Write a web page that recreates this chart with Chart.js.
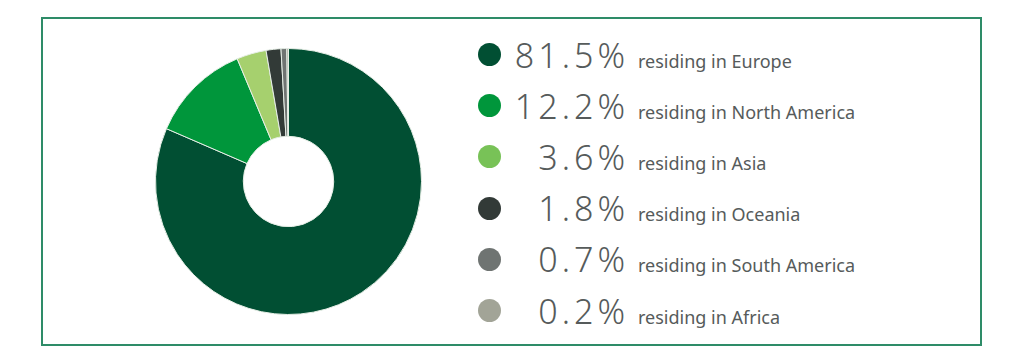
<!DOCTYPE html>
<html>
<head>
<meta charset="utf-8">
<script src="https://cdn.jsdelivr.net/npm/chart.js@4"></script>
<style>
    html, body { margin: 0; padding: 0; background: #ffffff; }
    body { width: 1024px; height: 364px; position: relative; overflow: hidden; font-family: 'Noto Sans', sans-serif; }
    .frame { position: absolute; left: 41px; top: 17px; width: 937px; height: 325px; border: 2px solid #2e8c68; }
    .pie { position: absolute; left: 155px; top: 48px; width: 267px; height: 267px; }
    .legend { position: absolute; left: 478px; top: 29px; }
    .row { display: flex; align-items: center; height: 51.2px; }
    .dot { width: 23px; height: 23px; border-radius: 50%; flex: none; }
    .txt { display: flex; align-items: baseline; color: #565b5b; }
    .pct { width: 116px; text-align: right; font-size: 34px; font-weight: 300; letter-spacing: 4px; margin-left: 12px; margin-right: 9px; }
    .lab { font-size: 18px; }
</style>
</head>
<body>
<div class="frame"></div>
<div class="pie"><canvas id="pie-chart"></canvas></div>
<div class="legend" id="legend"></div>
<script>
const regions = ['Europe', 'North America', 'Asia', 'Oceania', 'South America', 'Africa'];
const shares = [81.5, 12.2, 3.6, 1.8, 0.7, 0.2];
const sliceColors = ['#014f33', '#00963b', '#a6d06e', '#323a37', '#6f7472', '#a2a497'];
const dotColors = ['#014f33', '#00963b', '#78c257', '#323a37', '#6f7472', '#a2a497'];

function buildLegend() {
    const el = document.getElementById('legend');
    regions.forEach((name, i) => {
        const row = document.createElement('div');
        row.className = 'row';
        row.innerHTML = `<span class="dot" style="background:${dotColors[i]}"></span>` +
            `<span class="txt"><span class="pct">${shares[i].toFixed(1)}%</span>` +
            `<span class="lab">residing in ${name}</span></span>`;
        el.appendChild(row);
    });
}

buildLegend();

new Chart(document.getElementById('pie-chart'), {
    type: 'doughnut',
    data: {
        labels: regions,
        datasets: [
            {
                data: shares,
                backgroundColor: sliceColors,
                borderColor: '#e6eee6',
                borderWidth: 1,
            },
        ],
    },
    options: {
        responsive: true,
        maintainAspectRatio: false,
        animation: false,
        cutout: '34%',
        layout: { padding: 0 },
        plugins: {
            legend: { display: false },
            tooltip: { enabled: false },
        },
    },
});
</script>
</body>
</html>
